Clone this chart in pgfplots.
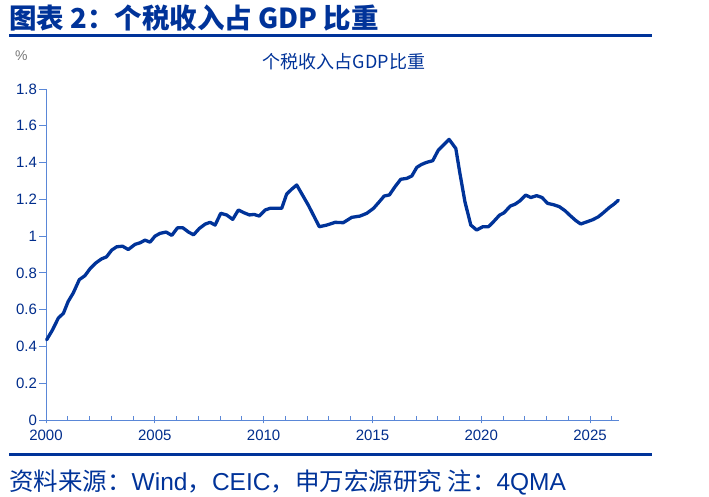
\documentclass[border=0pt]{standalone}
\usepackage{fontspec}
\setmainfont{Liberation Sans}
\newfontfamily\cjk{Noto Sans CJK SC}
\usepackage{pgfplots}
\pgfplotsset{compat=1.18}
\definecolor{tblue}{RGB}{0,51,153}
\definecolor{lblue}{RGB}{0,45,140}
\definecolor{axblue}{RGB}{90,135,215}
\definecolor{pgray}{RGB}{120,120,120}
\pgfplotstableread{
x y
2000.03 0.436
2000.30 0.490
2000.57 0.555
2000.80 0.580
2001.02 0.645
2001.25 0.690
2001.53 0.763
2001.79 0.785
2002.02 0.822
2002.30 0.855
2002.55 0.876
2002.78 0.887
2003.02 0.924
2003.25 0.942
2003.52 0.945
2003.78 0.927
2004.09 0.955
2004.33 0.964
2004.55 0.978
2004.78 0.967
2005.01 1.000
2005.24 1.015
2005.52 1.022
2005.78 1.004
2006.04 1.045
2006.29 1.045
2006.55 1.022
2006.78 1.007
2007.05 1.042
2007.31 1.065
2007.54 1.075
2007.77 1.060
2008.03 1.124
2008.30 1.115
2008.58 1.091
2008.84 1.142
2009.10 1.127
2009.35 1.115
2009.56 1.118
2009.80 1.109
2010.07 1.142
2010.29 1.151
2010.57 1.151
2010.83 1.151
2011.06 1.229
2011.29 1.255
2011.52 1.278
2012.05 1.169
2012.56 1.051
2012.90 1.060
2013.29 1.075
2013.66 1.073
2014.05 1.102
2014.43 1.109
2014.74 1.124
2015.05 1.151
2015.28 1.182
2015.54 1.218
2015.78 1.224
2016.04 1.269
2016.30 1.309
2016.58 1.314
2016.81 1.327
2017.04 1.374
2017.26 1.390
2017.49 1.401
2017.77 1.410
2018.03 1.468
2018.26 1.495
2018.52 1.526
2018.83 1.477
2019.02 1.341
2019.25 1.187
2019.52 1.060
2019.79 1.033
2020.07 1.051
2020.33 1.051
2020.56 1.078
2020.84 1.114
2021.05 1.127
2021.33 1.163
2021.56 1.174
2021.78 1.192
2022.04 1.223
2022.28 1.210
2022.55 1.220
2022.79 1.210
2023.05 1.178
2023.31 1.171
2023.59 1.160
2023.85 1.138
2024.11 1.109
2024.35 1.084
2024.57 1.066
2024.84 1.077
2025.12 1.089
2025.38 1.105
2025.61 1.127
2025.89 1.156
2026.10 1.174
2026.30 1.195
}\taxdata
\begin{document}
\begin{tikzpicture}[x=1pt,y=1pt]
\fill[white] (0,0) rectangle (709,497);
\node[anchor=base west,inner sep=0pt,text=tblue] at (9,468) {\fontsize{27.5}{32}\selectfont\cjk\bfseries 图表 2：个税收入占 GDP 比重};
\draw[tblue,line width=3pt] (9,461.5) -- (652,461.5);
\node[anchor=west,inner sep=0pt,text=pgray] at (15,441) {\fontsize{14}{16}\selectfont \%};
\node[inner sep=0pt,text=tblue] at (344,435) {\fontsize{18}{20}\selectfont\cjk 个税收入占GDP比重};
\begin{axis}[
  at={(46pt,77pt)}, anchor=origin,
  scale only axis, width=573pt, height=331pt,
  xmin=2000, xmax=2026.33, ymin=0, ymax=1.8,
  axis lines=left, axis line style={-, axblue, line width=0.9pt},
  xtick={2000,2005,...,2025},
  minor xtick={2001,2002,2003,2004,2006,2007,2008,2009,2011,2012,2013,2014,2016,2017,2018,2019,2021,2022,2023,2024,2026},
  ytick={0,0.2,...,1.8},
  yticklabels={0,0.2,0.4,0.6,0.8,1,1.2,1.4,1.6,1.8},
  xticklabel style={/pgf/number format/1000 sep={}},
  /pgf/number format/assume math mode=true,
  tick align=center,
  major tick length=7pt, minor tick length=4pt,
  tick style={axblue, line width=0.9pt},
  every major y tick/.style={xshift=-3.5pt},
  every minor x tick/.style={yshift=2pt},
  ticklabel style={font=\fontsize{15}{18}\selectfont, text=lblue},
  xticklabel style={yshift=-3pt},
  yticklabel style={xshift=-2pt},
  clip=false,
]
\addplot[tblue, line width=3.3pt, line join=round, line cap=round] table[x=x,y=y] {\taxdata};
\end{axis}
\draw[tblue,line width=3pt] (9,42) -- (652,42);
\node[anchor=base west,inner sep=0pt,text=tblue] at (9,6) {\fontsize{24.5}{28}\selectfont\cjk 资料来源：{\rmfamily Wind}，{\rmfamily CEIC}，申万宏源研究 注：{\rmfamily 4QMA}};
\end{tikzpicture}
\end{document}
